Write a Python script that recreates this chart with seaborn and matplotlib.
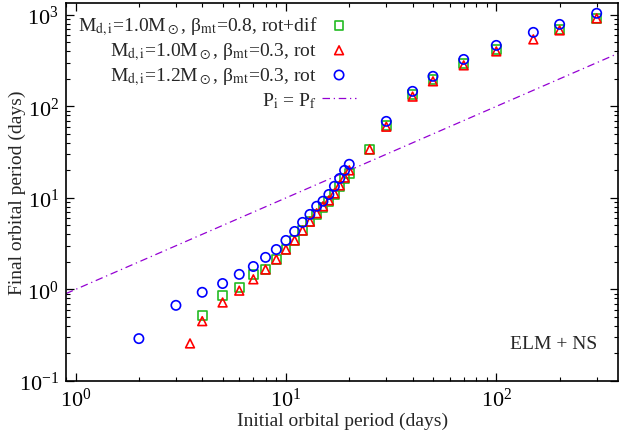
import numpy as np
import pandas as pd
import matplotlib
matplotlib.use('Agg')
import matplotlib.pyplot as plt
import matplotlib.ticker as mticker
import seaborn as sns

# ELM + NS: initial vs final orbital period
sq_pi = [4, 5, 6, 7, 8, 9, 10, 11, 12, 13, 14, 15, 16, 17, 18, 19, 20, 25, 30, 40, 50, 70, 100, 200, 300]
sq_pf = [0.52, 0.86, 1.05, 1.46, 1.65, 2.13, 2.73, 3.43, 4.4, 5.5, 6.6, 7.9, 9.1, 10.9, 13.3, 16.2, 18.5, 33.9, 62, 134, 197, 295, 420, 696, 916]

tri_pi = [3.5, 4, 5, 6, 7, 8, 9, 10, 11, 12, 13, 14, 15, 16, 17, 18, 19, 20, 25, 30, 40, 50, 70, 100, 150, 200, 300]
tri_pf = [0.257, 0.45, 0.72, 0.97, 1.29, 1.65, 2.13, 2.73, 3.43, 4.4, 5.5, 6.8, 8.1, 9.4, 11.2, 13.7, 16.7, 20, 33.9, 60, 128, 188, 281, 399, 540, 677, 916]

circ_pi = [2, 3, 4, 5, 6, 7, 8, 9, 10, 11, 12, 13, 14, 15, 16, 17, 18, 19, 20, 30, 40, 50, 70, 100, 150, 200, 300]
circ_pf = [0.29, 0.67, 0.93, 1.16, 1.46, 1.78, 2.24, 2.73, 3.43, 4.3, 5.4, 6.6, 8.1, 9.2, 10.9, 13.4, 16.3, 20, 23.3, 68.6, 146, 213, 326, 464, 644, 787, 1040]

line_p = [0.9, 400]

labels = [r'M$_{\mathrm{d,i}}$=1.0M$_\odot$, β$_{\mathrm{mt}}$=0.8, rot+dif',
          r'M$_{\mathrm{d,i}}$=1.0M$_\odot$, β$_{\mathrm{mt}}$=0.3, rot',
          r'M$_{\mathrm{d,i}}$=1.2M$_\odot$, β$_{\mathrm{mt}}$=0.3, rot',
          r'P$_{\mathrm{i}}$ = P$_{\mathrm{f}}$']

sns.set_theme(style='ticks')
plt.rcParams['font.family'] = ['Liberation Serif', 'DejaVu Serif']
plt.rcParams['mathtext.fontset'] = 'stix'
plt.rcParams['xtick.direction'] = 'in'
plt.rcParams['ytick.direction'] = 'in'

fig = plt.figure(figsize=(6.22, 4.39), dpi=100)
ax = fig.add_axes([0.106, 0.130, 0.888, 0.861])

sns.scatterplot(x=sq_pi, y=sq_pf, marker='s', s=40, facecolors='none', edgecolors='#22bb22',
                linewidths=1.2, ax=ax, label=labels[0], zorder=3)
sns.scatterplot(x=tri_pi, y=tri_pf, marker='^', s=40, facecolors='none', edgecolors='#ff0000',
                linewidths=1.2, ax=ax, label=labels[1], zorder=4)
sns.scatterplot(x=circ_pi, y=circ_pf, marker='o', s=45, facecolors='none', edgecolors='#0000ff',
                linewidths=1.2, ax=ax, label=labels[2], zorder=5)
sns.lineplot(x=line_p, y=line_p, color='#9400d3', lw=0.9, dashes=False, ax=ax, label=labels[3], zorder=2)
ax.lines[-1].set_dashes((6, 3, 1, 3))

ax.set_xscale('log')
ax.set_yscale('log')
ax.set_xlim(0.9, 380)
ax.set_ylim(0.1, 1350)

for a in (ax.xaxis, ax.yaxis):
    a.set_major_locator(mticker.LogLocator(base=10))
    a.set_minor_locator(mticker.LogLocator(base=10, subs=np.arange(2, 10)))
    a.set_minor_formatter(mticker.NullFormatter())
ax.tick_params(which='both', top=True, right=True, labelsize=16, colors='black')
ax.tick_params(which='major', length=6, width=0.9, pad=5)
ax.tick_params(which='minor', length=3, width=0.8)
for sp in ax.spines.values():
    sp.set_linewidth(1.2)
    sp.set_color('black')

ax.set_xlabel('Initial orbital period (days)', fontsize=14)
ax.set_ylabel('Final orbital period (days)', fontsize=14)
ax.xaxis.set_label_coords(0.5, -0.082)
ax.yaxis.set_label_coords(-0.072, 0.5)

ax.text(0.962, 0.098, 'ELM + NS', transform=ax.transAxes, ha='right', va='center', fontsize=14)

leg = ax.legend(loc='upper left', markerfirst=False, frameon=False, fontsize=14,
                handlelength=1.75, handletextpad=0.25, labelspacing=0.15,
                borderaxespad=0.2, bbox_to_anchor=(0.0, 1.0))

fig.savefig('out.png', dpi=100)
